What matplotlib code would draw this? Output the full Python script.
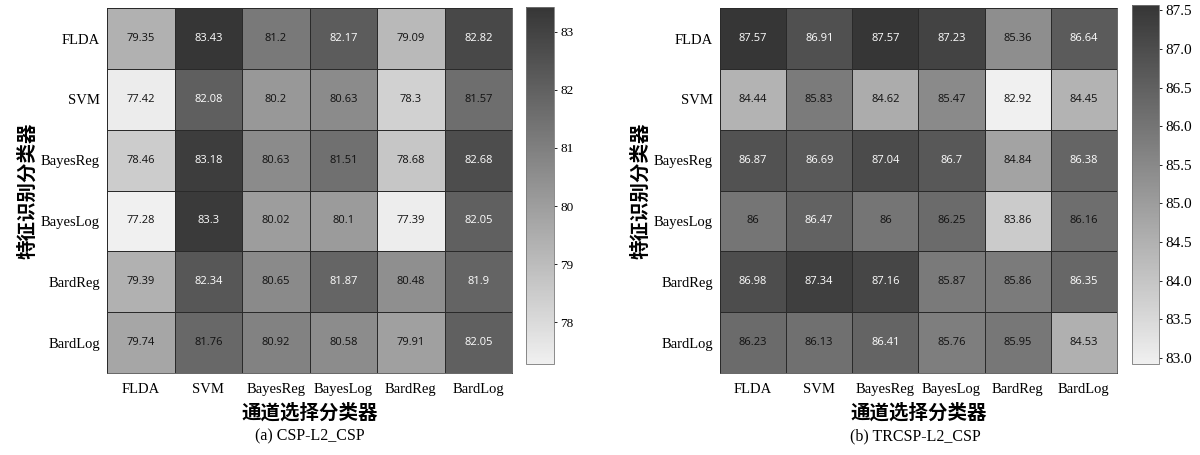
import numpy as np
import matplotlib
matplotlib.use("Agg")
import matplotlib.pyplot as plt
from matplotlib.colors import LinearSegmentedColormap, Normalize

classifiers = ["FLDA", "SVM", "BayesReg", "BayesLog", "BardReg", "BardLog"]

# rows: feature-recognition classifier, columns: channel-selection classifier
acc_csp = [
    [79.35, 83.43, 81.2, 82.17, 79.09, 82.82],
    [77.42, 82.08, 80.2, 80.63, 78.3, 81.57],
    [78.46, 83.18, 80.63, 81.51, 78.68, 82.68],
    [77.28, 83.3, 80.02, 80.1, 77.39, 82.05],
    [79.39, 82.34, 80.65, 81.87, 80.48, 81.9],
    [79.74, 81.76, 80.92, 80.58, 79.91, 82.05],
]
acc_trcsp = [
    [87.57, 86.91, 87.57, 87.23, 85.36, 86.64],
    [84.44, 85.83, 84.62, 85.47, 82.92, 84.45],
    [86.87, 86.69, 87.04, 86.7, 84.84, 86.38],
    [86.0, 86.47, 86.0, 86.25, 83.86, 86.16],
    [86.98, 87.34, 87.16, 85.87, 85.86, 86.35],
    [86.23, 86.13, 86.41, 85.76, 85.95, 84.53],
]
ticks_csp = [78, 79, 80, 81, 82, 83]
ticks_trcsp = [83.0, 83.5, 84.0, 84.5, 85.0, 85.5, 86.0, 86.5, 87.0, 87.5]

captions = ["(a) CSP-L2_CSP", "(b) TRCSP-L2_CSP"]
xlabel = "通道选择分类器"
ylabel = "特征识别分类器"

# linear grey ramp, light for low accuracy and dark for high
cmap = LinearSegmentedColormap.from_list("grey_ramp", ["#f0f0f0", "#363636"])

serif = ["Liberation Serif", "DejaVu Serif"]
cjk = ["Noto Sans CJK SC", "DejaVu Sans"]
annot_font = ["Open Sans", "DejaVu Sans"]

fig = plt.figure(figsize=(12, 4.55), dpi=100)

panels = [
    (acc_csp, ticks_csp, "{:.0f}", 9.5, [0.0892, 0.1802, 0.3375, 0.802],
     [0.4383, 0.2, 0.0233, 0.785], 0.2583),
    (acc_trcsp, ticks_trcsp, "{:.1f}", 11, [0.600, 0.1802, 0.3308, 0.802],
     [0.9433, 0.2, 0.0225, 0.789], 0.7625),
]

for (data, cticks, cfmt, cfs, axpos, cbpos, cx), cap in zip(panels, captions):
    arr = np.array(data)
    norm = Normalize(vmin=arr.min(), vmax=arr.max())
    ax = fig.add_axes(axpos)
    mesh = ax.pcolormesh(arr, cmap=cmap, norm=norm,
                         edgecolors="#2a2a2a", linewidth=0.5)
    ax.set_xlim(0, arr.shape[1])
    ax.set_ylim(arr.shape[0], 0)
    for i in range(arr.shape[0]):
        for j in range(arr.shape[1]):
            v = arr[i, j]
            color = "white" if norm(v) > 0.73 else "#111111"
            ax.text(j + 0.5, i + 0.5, f"{v:g}", ha="center", va="center",
                    fontsize=8, family=annot_font, color=color)
    ax.set_xticks(np.arange(arr.shape[1]) + 0.5)
    ax.set_yticks(np.arange(arr.shape[0]) + 0.5)
    ax.set_xticklabels(classifiers, family=serif, fontsize=10.5)
    ax.set_yticklabels(classifiers, family=serif, fontsize=10.5)
    ax.tick_params(axis="x", length=0, pad=7)
    ax.tick_params(axis="y", length=0, pad=5)
    for s in ax.spines.values():
        s.set_linewidth(0.5)
        s.set_color("#2a2a2a")
    ax.set_ylabel(ylabel, family=cjk, fontsize=14, fontweight="bold",
                  labelpad=3)
    ax.set_xlabel(xlabel, family=cjk, fontsize=14, fontweight="bold",
                  labelpad=5)

    cax = fig.add_axes(cbpos)
    cb = fig.colorbar(mesh, cax=cax)
    cb.set_ticks(cticks)
    cb.set_ticklabels([cfmt.format(t) for t in cticks])
    cax.tick_params(labelsize=cfs, length=2.5, width=0.6, pad=2)
    for lab in cax.get_yticklabels():
        lab.set_family(serif)
    cb.outline.set_linewidth(0.6)
    cb.outline.set_edgecolor("#777777")

    fig.text(cx, 0.040, cap, ha="center", va="center",
             family=serif, fontsize=11.5)

fig.savefig("out.png", dpi=100)
